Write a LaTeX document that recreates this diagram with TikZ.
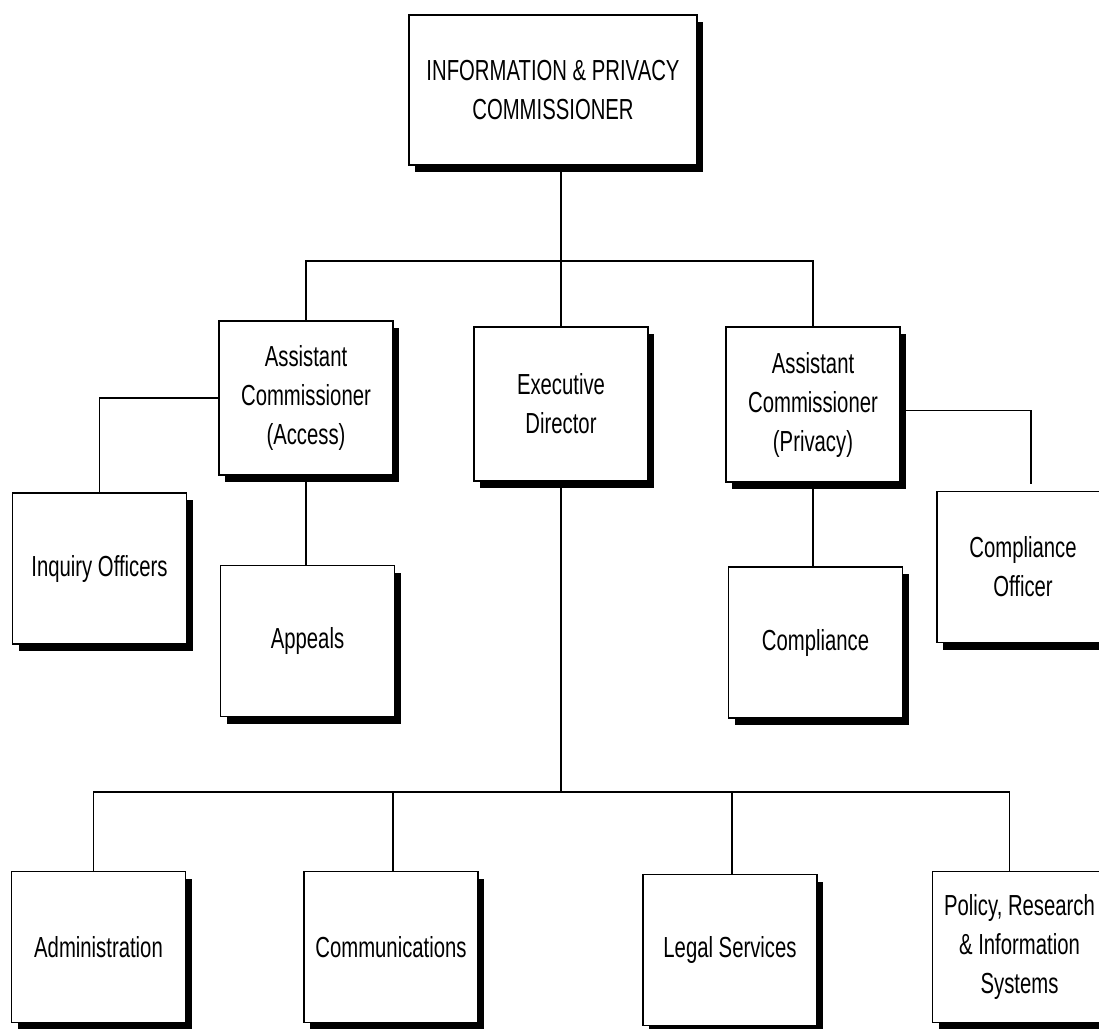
\documentclass[tikz,border=0pt]{standalone}
\usepackage{fontspec}
\newfontfamily\orgfont[FakeStretch=0.7]{Liberation Sans}
\usetikzlibrary{calc,shadows}
\begin{document}
\begin{tikzpicture}[x=1pt,y=-1pt,
  box/.style={draw=black, line width=1.6pt, fill=white,
    minimum width=174pt, minimum height=151pt, inner sep=0pt, align=center,
    font=\orgfont\fontsize{29}{39}\selectfont,
    general shadow={fill=black, shadow xshift=6pt, shadow yshift=-7pt}},
  link/.style={line width=1.6pt, line cap=rect}]
\useasboundingbox (0,0) rectangle (1099,1028);
\fill[white] (0,0) rectangle (1099,1028);
\clip (0,0) rectangle (1099,1028);

% nodes
\node[box, minimum width=288pt, minimum height=150pt] (top) at (553,90) {INFORMATION \& PRIVACY\\COMMISSIONER};
\node[box, minimum height=154pt] (acA) at (306,398) {Assistant\\Commissioner\\(Access)};
\node[box, minimum height=154pt] (ed) at (561,404) {Executive\\Director};
\node[box, minimum height=155pt] (acP) at (813,404.5) {Assistant\\Commissioner\\(Privacy)};
\node[box] (inq) at (99.5,568.5) {Inquiry Officers};
\node[box] (app) at (307.5,641) {Appeals};
\node[box] (comp) at (815.5,642.5) {Compliance};
\node[box, minimum width=172pt] (co) at (1023,567) {Compliance\\Officer};
\node[box] (adm) at (98.5,947) {Administration};
\node[box] (comm) at (391,947) {Communications};
\node[box] (legal) at (730,950) {Legal Services};
\node[box] (pol) at (1019.5,947) {Policy, Research\\\& Information\\Systems};

% helper coordinates
\coordinate (bus1) at (0,261);
\coordinate (bus2) at (0,792);
\coordinate (pa) at ($(adm.north)+(-5,0)$);
\coordinate (cc) at ($(comm.north)+(2,0)$);
\coordinate (lc) at ($(legal.north)+(2,0)$);
\coordinate (pp) at ($(pol.north)+(-10,0)$);
\coordinate (coend) at ($(co.north)+(8,-8)$);

% connectors
\draw[link] (ed.north |- top.south) -- (ed.north);
\draw[link] (acA.north) -- (acA.north |- bus1) -- (acP.north |- bus1) -- (acP.north);
\draw[link] (acA.west) -| (inq.north);
\draw[link] (acA.south) -- (acA.south |- app.north);
\draw[link] (acP.south) -- (acP.south |- comp.north);
\draw[link] ($(acP.east)+(0,6)$) -| (coend);
\draw[link] (ed.south) -- (ed.south |- bus2);
\draw[link] (pa) |- (bus2 -| pp) -- (pp);
\draw[link] (cc) -- (cc |- bus2);
\draw[link] (lc) -- (lc |- bus2);
\end{tikzpicture}
\end{document}
